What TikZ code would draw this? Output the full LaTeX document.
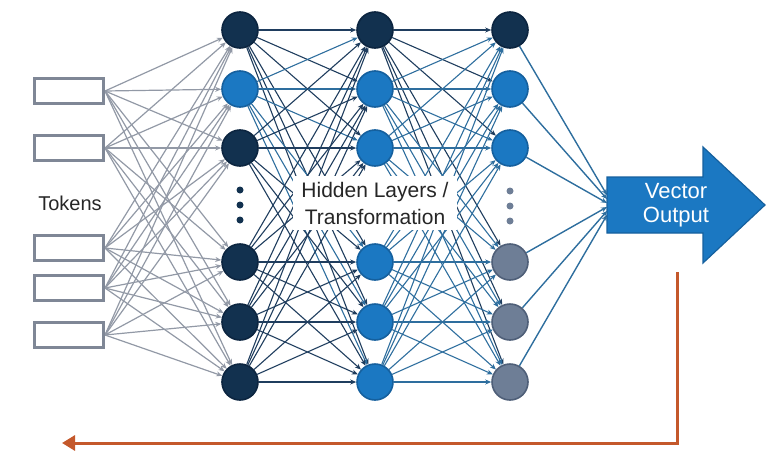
\documentclass[tikz,border=0pt]{standalone}
\usepackage{fontspec}
\setmainfont{Liberation Sans}
\usetikzlibrary{arrows.meta}
\pgfdeclarelayer{background}
\pgfsetlayers{background,main}
\definecolor{navy}{HTML}{12314F}
\definecolor{navyb}{HTML}{0C2540}
\definecolor{nblue}{HTML}{1B78C2}
\definecolor{nblueb}{HTML}{15609E}
\definecolor{ngray}{HTML}{6E7E96}
\definecolor{ngrayb}{HTML}{4F5F78}
\definecolor{tokgray}{HTML}{7F8796}
\definecolor{fbor}{HTML}{C4582B}
\definecolor{lnavy}{HTML}{1F3D5E}
\definecolor{lblue}{HTML}{2E6E9E}
\begin{document}
\begin{tikzpicture}[x=1pt,y=-1pt,
  neuron/.style={circle,minimum size=36pt,inner sep=0pt,line width=1.6pt},
  nv/.style={neuron,fill=navy,draw=navyb},
  nb/.style={neuron,fill=nblue,draw=nblueb},
  ng/.style={neuron,fill=ngray,draw=ngrayb},
  token/.style={draw=tokgray,line width=3pt,fill=white,minimum width=69pt,minimum height=25pt,inner sep=0pt},
  tokedge/.style={draw=tokgray!85,line width=1.2pt,-{Stealth[length=6pt,width=5pt]}},
  hedge/.style={line width=1.1pt,-{Stealth[length=6pt,width=5pt]}},
  dotn/.style={circle,inner sep=0pt,minimum size=7pt}
]
\useasboundingbox (0,0) rectangle (766,458);
% tokens
\foreach \i/\y in {1/91,2/148,3/248,4/288,5/335}
  \node[token] (t\i) at (69,\y) {};
\node[font=\fontsize{20}{24}\selectfont,text=black!85] (tokens) at (70,203) {Tokens};
% layers
\def\ys{30,89,148,262,322,382}
\foreach \y [count=\j] in \ys {
  \ifnum\j=2 \node[nb] (a\j) at (240,\y) {}; \else \node[nv] (a\j) at (240,\y) {}; \fi
  \ifnum\j=1 \node[nv] (b\j) at (375,\y) {}; \else \node[nb] (b\j) at (375,\y) {}; \fi
  \ifnum\j=1 \node[nv] (c\j) at (510,\y) {}; \else
    \ifnum\j<4 \node[nb] (c\j) at (510,\y) {}; \else \node[ng] (c\j) at (510,\y) {}; \fi\fi
}
% dots
\foreach \y [count=\k] in {190,205,220} {
  \node[dotn,fill=navy] (da\k) at (240,\y) {};
  \node[dotn,fill=ngray] (dc\k) at (510,\y+1) {};
}
% label
\node[fill=white,align=center,inner xsep=8pt,inner ysep=6pt,font=\fontsize{21}{27}\selectfont,text=black!85] (hid) at (375,203) {Hidden Layers /\\Transformation};
% output arrow
\draw[fill=nblue,draw=nblueb,line width=1.2pt] (607,177) -- (703,177) -- (703,147) -- (765,205) -- (703,263) -- (703,233) -- (607,233) -- cycle;
\node[text=white,align=center,font=\fontsize{22}{24}\selectfont] (out) at (676,205) {Vector\\Output};
\foreach \j/\yy in {1/195,2/199,3/203,4/207,5/211,6/215}
  \coordinate (o\j) at (607,\yy);
% feedback
\coordinate (fb0) at (677,272);
\coordinate (fb1) at (677,443);
\coordinate (fb2) at (62,443);
\draw[fbor,line width=3pt,-{Triangle[length=13pt,width=15pt]}] (fb0) -- (fb1) -- (fb2);
% edges
\begin{pgfonlayer}{background}
\foreach \i in {1,...,5}
  \foreach \j in {1,...,6}
    \draw[tokedge] (t\i.east) -- (a\j);
\foreach \i in {1,...,6}
  \foreach \j in {1,...,6} {
    \ifnum\i=2 \def\cc{lblue}\else\def\cc{lnavy}\fi
    \draw[hedge,draw=\cc] (a\i) -- (b\j);
    \ifnum\i=1 \def\cd{lnavy}\else\def\cd{lblue}\fi
    \draw[hedge,draw=\cd] (b\i) -- (c\j);
  }
\foreach \j in {1,...,6}
  \draw[hedge,draw=lblue,line width=1.4pt] (c\j) -- (o\j);
\end{pgfonlayer}
\end{tikzpicture}
\end{document}
